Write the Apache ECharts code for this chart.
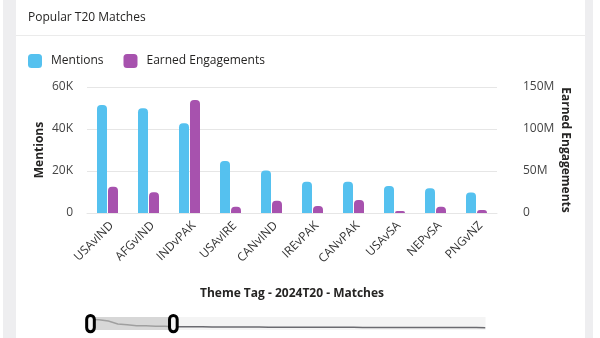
<!DOCTYPE html>
<html>
<head>
<meta charset="utf-8">
<script src="https://cdn.jsdelivr.net/npm/echarts@6/dist/echarts.min.js"></script>
<style>
  html, body { margin: 0; padding: 0; width: 600px; height: 338px; background: #ffffff; overflow: hidden; }
  #stripL { position: absolute; left: 3px; top: 0; width: 13px; height: 338px; background: #eeeef0; }
  #stripR { position: absolute; left: 585px; top: 0; width: 8px; height: 338px; background: #eeeef0; }
  #sep { position: absolute; left: 16px; top: 35px; width: 569px; height: 1px; background: #ebebeb; }
  #chart { position: absolute; left: 0; top: 0; width: 600px; height: 338px; }
</style>
</head>
<body>
<div id="stripL"></div>
<div id="stripR"></div>
<div id="sep"></div>
<div id="chart"></div>
<script>
const categories = ['USAvIND', 'AFGvIND', 'INDvPAK', 'USAvIRE', 'CANvIND', 'IREvPAK', 'CANvPAK', 'USAvSA', 'NEPvSA', 'PNGvNZ'];
const mentions = [51400, 49900, 42700, 24800, 20200, 14900, 14900, 12900, 11800, 9800];
const engagements = [31.3e6, 24.6e6, 134.5e6, 7.5e6, 14.7e6, 8.3e6, 15.5e6, 2.4e6, 7.5e6, 3.6e6];
// mentions across all matches (first 10 are the shown ones)
const shadowTail = [9200, 8900, 8600, 8400, 8100, 7900, 7700, 7500, 7300, 7100, 6900, 6700, 6600, 6400, 6300, 6100, 6000, 5800, 5700, 5600, 5400, 5300, 5200, 5100, 5000, 4900, 4800, 4700, 4600, 4500, 4400, 4300, 4200];
const leftTicks = ['0', '20K', '40K', '60K'];
const rightTicks = ['0', '50M', '100M', '150M'];

const shadowValues = mentions.concat(shadowTail);
const shadowCats = shadowValues.map((v, i) => String(i));

const FONT = "'Segoe UI', 'Open Sans', sans-serif";
const chart = echarts.init(document.getElementById('chart'), null, { renderer: 'canvas' });

chart.setOption({
  animation: false,
  textStyle: { fontFamily: FONT },
  title: {
    text: 'Popular T20 Matches',
    left: 28, top: 12, padding: 0,
    textStyle: { fontFamily: FONT, fontSize: 12, fontWeight: 'normal', color: '#252423' }
  },
  legend: {
    data: ['Mentions', 'Earned Engagements'],
    left: 28, top: 54, padding: 0,
    itemWidth: 14, itemHeight: 14, itemGap: 20,
    icon: 'roundRect',
    textStyle: { fontFamily: FONT, fontSize: 12, color: '#252423', padding: [0, 0, 0, 4] }
  },
  grid: [
    { left: 87, right: 103, top: 87, bottom: 125, containLabel: false },
    { left: 87, right: 117, top: 317, height: 13, show: false }
  ],
  xAxis: [
    {
      type: 'category', data: categories, gridIndex: 0,
      axisLine: { show: true, lineStyle: { color: '#e6e6e6', width: 1 } },
      axisTick: { show: false },
      axisLabel: { rotate: 45, fontSize: 12, color: '#333', fontFamily: FONT, margin: 15, interval: 0,
        padding: [0, -6, 0, 0] },
      name: 'Theme Tag - 2024T20 - Matches',
      nameLocation: 'middle', nameGap: 75, nameMoveOverlap: false,
      nameTextStyle: { fontFamily: FONT, fontSize: 12, fontWeight: 'bold', color: '#252423' }
    },
    {
      type: 'category', data: shadowCats, gridIndex: 1, show: false
    }
  ],
  yAxis: [
    {
      type: 'value', gridIndex: 0, min: 0, max: 60000, interval: 20000,
      axisLine: { show: false }, axisTick: { show: false },
      splitLine: { show: true, lineStyle: { color: '#e6e6e6', width: 1 } },
      axisLabel: { fontSize: 12, color: '#444', fontFamily: FONT, margin: 14,
        formatter: (v) => leftTicks[Math.round(v / 20000)] },
      name: 'Mentions', nameLocation: 'middle', nameGap: 41, nameMoveOverlap: false,
      nameTextStyle: { fontFamily: FONT, fontSize: 12, fontWeight: 'bold', color: '#252423' }
    },
    {
      type: 'value', gridIndex: 0, min: 0, max: 150e6, interval: 50e6, position: 'right',
      axisLine: { show: false }, axisTick: { show: false },
      splitLine: { show: false },
      axisLabel: { fontSize: 12, color: '#444', fontFamily: FONT, margin: 26,
        formatter: (v) => rightTicks[Math.round(v / 50e6)] },
      name: 'Earned Engagements', nameLocation: 'middle', nameGap: 62, nameRotate: -90, nameMoveOverlap: false,
      nameTextStyle: { fontFamily: FONT, fontSize: 12, fontWeight: 'bold', color: '#252423' }
    },
    { type: 'value', gridIndex: 1, show: false }
  ],
  dataZoom: [{
    type: 'slider', xAxisIndex: 1, startValue: 0, endValue: 9,
    left: 87, right: 117, top: 317, height: 13,
    showDetail: false, brushSelect: false, zoomLock: false,
    moveHandleSize: 0,
    showDataShadow: true,
    borderColor: 'transparent', borderRadius: 6,
    backgroundColor: '#f4f4f4',
    fillerColor: 'rgba(200,200,200,0.65)',
    dataBackground: {
      lineStyle: { color: '#6b6b70', width: 1.5, opacity: 1 },
      areaStyle: { opacity: 0 }
    },
    selectedDataBackground: {
      lineStyle: { color: '#555', width: 1.5, opacity: 1 },
      areaStyle: { opacity: 0 }
    },
    handleIcon: 'path://M4,0 a4,4 0 0 1 4,4 v9 a4,4 0 0 1 -4,4 a4,4 0 0 1 -4,-4 v-9 a4,4 0 0 1 4,-4 z',
    handleSize: '125%',
    handleStyle: { color: '#f4f4f4', borderColor: '#000', borderWidth: 3 },
    emphasis: { handleStyle: { color: '#f4f4f4', borderColor: '#000', borderWidth: 3 } }
  }],
  series: [
    {
      name: 'Mentions', type: 'bar', xAxisIndex: 0, yAxisIndex: 0,
      data: mentions, barWidth: 10, barGap: '10%',
      itemStyle: { color: '#55c1ef', borderRadius: [4, 4, 0, 0] }
    },
    {
      name: 'Earned Engagements', type: 'bar', xAxisIndex: 0, yAxisIndex: 1,
      data: engagements, barWidth: 10, barGap: '10%',
      itemStyle: { color: '#a752ae', borderRadius: [4, 4, 0, 0] }
    },
    {
      name: 'shadow', type: 'line', xAxisIndex: 1, yAxisIndex: 2,
      data: shadowValues, symbol: 'none', silent: true,
      lineStyle: { opacity: 0 }
    }
  ]
});
</script>
</body>
</html>
